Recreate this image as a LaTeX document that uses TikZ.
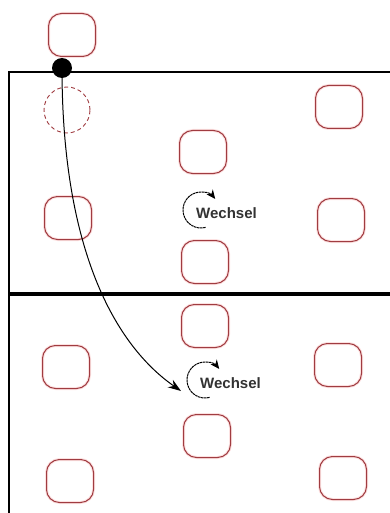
\documentclass[tikz,border=0pt]{standalone}
\usepackage{fontspec}
\setmainfont{Liberation Sans}
\usetikzlibrary{arrows.meta}
\definecolor{plr}{RGB}{160,60,65}
\definecolor{glow}{RGB}{252,225,225}
\definecolor{txt}{RGB}{50,50,50}
\tikzset{
  player/.style={draw=plr, line width=1pt, rounded corners=13pt, minimum width=47pt, minimum height=43pt, inner sep=0pt,
    preaction={draw=glow, line width=3pt}},
  ghost/.style={draw=plr, line width=0.9pt, dash pattern=on 4pt off 3pt, circle, minimum size=46pt, inner sep=0pt},
  court/.style={draw=black, line width=1.6pt},
  midline/.style={draw=black, line width=3.4pt},
  rotarrow/.style={draw=black, line width=1pt, dash pattern=on 2.5pt off 0.6pt, -{Stealth[length=9pt,width=8pt]}},
  wtext/.style={font=\fontsize{15}{15}\selectfont\bfseries, text=txt, anchor=west, inner sep=0pt},
  movepath/.style={draw=black, line width=1pt, -{Stealth[length=13pt,width=9pt]}}
}
\begin{document}
\begin{tikzpicture}[x=1pt,y=-1pt]
\useasboundingbox (0,0) rectangle (390,513);
% court lines
\coordinate (tl) at (9,72);
\coordinate (tr) at (390,72);
\coordinate (bl) at (9,513);
\coordinate (ml) at (9,294);
\coordinate (mr) at (390,294);
\draw[court] (tr) -- (tl) -- (bl);
\draw[midline] (ml) -- (mr);
% players
\node[player] (p0) at (72,35) {};
\node[ghost] (g1) at (67,110) {};
\node[player] (p1) at (339,107) {};
\node[player] (p2) at (203,152) {};
\node[player] (p3) at (68,218) {};
\node[player] (p4) at (341,220) {};
\node[player] (p5) at (205,262) {};
\node[player] (p6) at (205,326) {};
\node[player] (p7) at (66,367) {};
\node[player] (p8) at (338,365) {};
\node[player] (p9) at (207,436) {};
\node[player] (p10) at (70,481) {};
\node[player] (p11) at (343,478) {};
% rotation marks
\coordinate (r1) at (201,210);
\coordinate (r2) at (205,380);
\draw[rotarrow] ([shift={(75:18)}]r1) arc[start angle=75, end angle=322, radius=18];
\draw[rotarrow] ([shift={(75:18)}]r2) arc[start angle=75, end angle=322, radius=18];
\node[wtext] (w1) at (196,213) {Wechsel};
\node[wtext] (w2) at (200,383) {Wechsel};
% moving player
\node[circle, fill=black, minimum size=20pt, inner sep=0pt] (dot) at (62,68) {};
\coordinate (tip) at (181,391);
\draw[movepath] (dot.center) .. controls (62,250) and (115,345) .. (tip);
\end{tikzpicture}
\end{document}
